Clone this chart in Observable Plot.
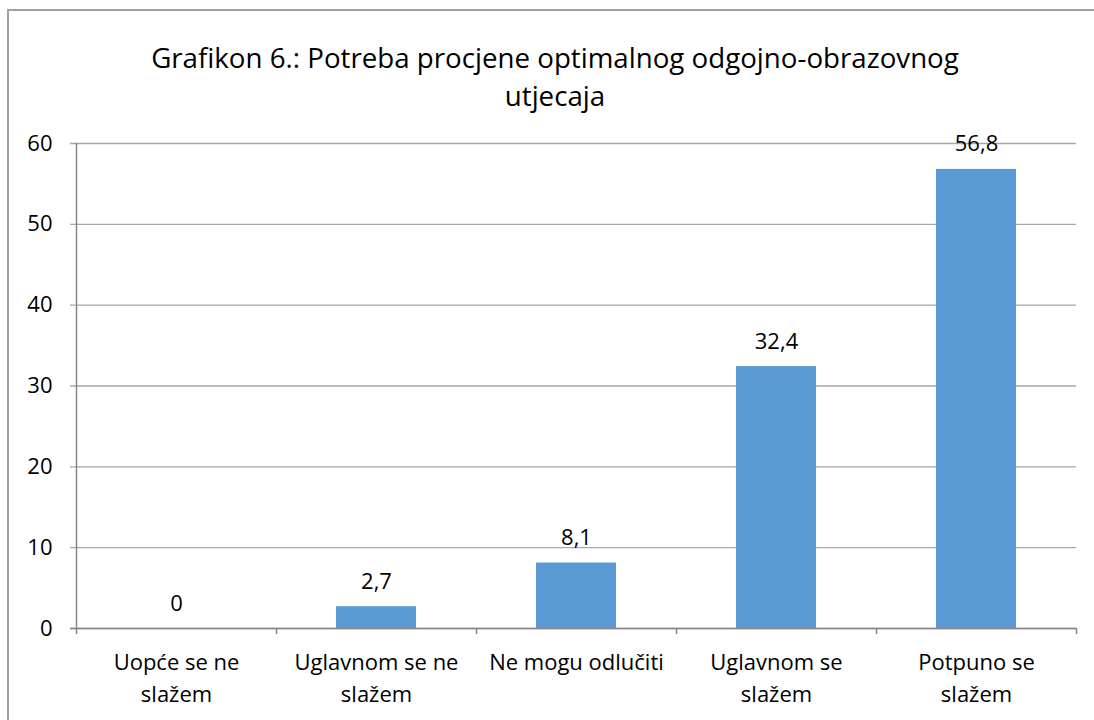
<!DOCTYPE html>
<html><head><meta charset="utf-8">
<script src="https://cdn.jsdelivr.net/npm/d3@7"></script>
<script src="https://cdn.jsdelivr.net/npm/@observablehq/plot@0.6"></script>
<style>
body{margin:0;background:#fff;}
#wrap{position:relative;width:1094px;height:720px;overflow:hidden;font-family:"Open Sans",sans-serif;}
#border{position:absolute;left:7px;top:9px;width:1200px;height:800px;border-left:2px solid #a0a0a0;border-top:2px solid #a0a0a0;}
#title{position:absolute;left:12px;width:1086px;top:38px;text-align:center;font-size:27.7px;line-height:38px;color:#000;}
#chart{position:absolute;left:0;top:120px;}
</style></head><body>
<div id="wrap"><div id="border"></div><div id="title">Grafikon 6.: Potreba procjene optimalnog odgojno-obrazovnog<br>utjecaja</div><div id="chart"></div></div>
<script>
const categories = ["Uopće se ne slažem", "Uglavnom se ne slažem", "Ne mogu odlučiti", "Uglavnom se slažem", "Potpuno se slažem"];
const categoryLabels = ["Uopće se ne\nslažem", "Uglavnom se ne\nslažem", "Ne mogu odlučiti", "Uglavnom se\nslažem", "Potpuno se\nslažem"];
const values = [0, 2.7, 8.1, 32.4, 56.8];
const valueLabels = ["0", "2,7", "8,1", "32,4", "56,8"];
const yTicks = [0, 10, 20, 30, 40, 50, 60];

const data = categories.map((c, i) => ({i, category: c, label: categoryLabels[i], value: values[i], text: valueLabels[i]}));
const boundaries = d3.range(categories.length + 1);

const plot = Plot.plot({
  width: 1094, height: 600,
  marginTop: 23, marginBottom: 92, marginLeft: 76, marginRight: 18,
  style: {fontFamily: "'Open Sans', sans-serif", fontSize: "22px", color: "#000", background: "transparent", overflow: "visible"},
  x: {domain: [0, categories.length], axis: null},
  y: {domain: [0, 60], axis: null},
  marks: [
    Plot.ruleY(yTicks, {stroke: "#a6a6a6", strokeWidth: 1.3, insetLeft: -6}),
    Plot.rectY(data, {x1: "i", x2: d => d.i + 1, y: "value", insetLeft: 60, insetRight: 60, fill: "#5B9BD5"}),
    Plot.ruleX([0], {stroke: "#868686", strokeWidth: 1.5}),
    Plot.ruleY([0], {stroke: "#868686", strokeWidth: 1.5, insetLeft: -6}),
    Plot.axisX(boundaries, {tickSize: 6, tickFormat: () => "", label: null, stroke: "#868686", strokeWidth: 1.5}),
    Plot.text(yTicks, {x: 0, y: d => d, text: d => String(d), dx: -24, textAnchor: "end", fontSize: 22, fill: "#000"}),
    Plot.text(data, {x: d => d.i + 0.5, y: "value", text: "text", dy: -25, fontSize: 22, fill: "#000"}),
    Plot.text(data, {x: d => d.i + 0.5, y: () => 0, text: "label", lineAnchor: "top", dy: 19, lineHeight: 1.45, fontSize: 22, fill: "#000"})
  ]
});
document.getElementById("chart").appendChild(plot);
</script>
</body></html>
